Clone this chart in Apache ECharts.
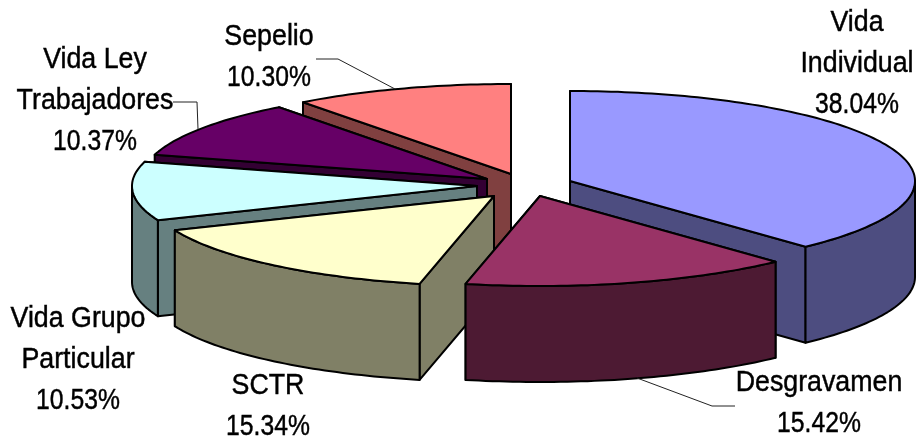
<!DOCTYPE html>
<html>
<head>
<meta charset="utf-8">
<style>html,body{margin:0;padding:0;background:#fff}#c{width:917px;height:441px}</style>
<script src="https://cdn.jsdelivr.net/npm/echarts@6/dist/echarts.min.js"></script>
</head>
<body>
<div id="c"></div>
<script>
// Data
const categories = ['Vida Individual', 'Desgravamen', 'SCTR', 'Vida Grupo Particular', 'Vida Ley Trabajadores', 'Sepelio'];
const shares = [38.04, 15.42, 15.34, 10.53, 10.37, 10.30];
const labelLines = [['Vida', 'Individual'], ['Desgravamen'], ['SCTR'], ['Vida Grupo', 'Particular'], ['Vida Ley', 'Trabajadores'], ['Sepelio']];

// Layout and style (not data)
const RX = 345, RY = 90, DEPTH = 96, LINE_GAP = 41;
const apexes = [[570,181],[540,196],[494,196],[477,186],[487,179],[511,174]];
const topColors = ['#9999FF','#993366','#FFFFCC','#CCFFFF','#660066','#FF8080'];
const sideColors = ['#4D4D80','#4D1A33','#808066','#668080','#330033','#804040'];
const labelPos = [[857,23],[819,383],[268,386],[78,319],[95,60],[269,37]];
const leaders = [null,[[735,406],[712,406],[637,378]],null,null,[[173,102],[197,102],[198,129]],[[316,59],[338,59],[395,89]]];
const drawOrder = [0,5,4,3,2,1];
const FONT = '26px "Liberation Sans", Arial, sans-serif';
const TEXT_SCALE_Y = 1.12, NAME_SCALE_X = 1.03, PCT_SCALE_X = 0.95;

const total = shares.reduce((a,b)=>a+b,0);
const starts = [];
shares.reduce((acc,v,i)=>{starts[i]=acc;return acc+v;},0);
const toRad = v => v/total*2*Math.PI;

function renderSlice(params, api){
  const i = api.value(0);
  const [cx,cy] = apexes[i];
  const a = toRad(starts[i]), b = toRad(starts[i]+shares[i]);
  const rimPt = (t,dy=0)=>[cx+RX*Math.sin(t), cy-RY*Math.cos(t)+dy];
  const arc = (t0,t1,dy=0)=>{
    const n = Math.max(2,Math.ceil(Math.abs(t1-t0)/0.02));
    const pts=[];
    for(let k=0;k<=n;k++) pts.push(rimPt(t0+(t1-t0)*k/n,dy));
    return pts;
  };
  const stroke = {stroke:'#000',lineWidth:2,lineJoin:'round'};
  const poly = (points,fill)=>({type:'polygon',shape:{points},style:{fill,...stroke}});
  const wall = t => [[cx,cy],rimPt(t),rimPt(t,DEPTH),[cx,cy+DEPTH]];
  const children=[];
  const startVisible = Math.sin(a) < -1e-9, endVisible = Math.sin(b) > -1e-9;
  // hidden walls first, then visible ones
  if(!startVisible) children.push(poly(wall(a),sideColors[i]));
  if(!endVisible) children.push(poly(wall(b),sideColors[i]));
  if(startVisible) children.push(poly(wall(a),sideColors[i]));
  if(endVisible) children.push(poly(wall(b),sideColors[i]));
  const ra = Math.max(a,Math.PI/2), rb = Math.min(b,1.5*Math.PI);
  if(rb>ra) children.push(poly(arc(ra,rb).concat(arc(rb,ra,DEPTH)),sideColors[i]));
  children.push(poly([[cx,cy]].concat(arc(a,b)),topColors[i]));
  if(leaders[i]) children.push({type:'polyline',shape:{points:leaders[i]},style:{stroke:'#222',lineWidth:1,fill:null}});
  const names = labelLines[i];
  const lines = names.concat([shares[i].toFixed(2)+'%']);
  lines.forEach((t,k)=>children.push({
    type:'text',
    x:labelPos[i][0],
    y:labelPos[i][1]+k*LINE_GAP,
    scaleX:k<names.length?NAME_SCALE_X:PCT_SCALE_X,
    scaleY:TEXT_SCALE_Y,
    style:{text:t,x:0,y:0,align:'center',verticalAlign:'middle',font:FONT,fill:'#000',stroke:'#000',lineWidth:0.4}
  }));
  return {type:'group',children};
}

const chart = echarts.init(document.getElementById('c'),null,{renderer:'canvas'});
chart.setOption({
  animation:false,
  backgroundColor:'#fff',
  series:[{
    type:'custom',
    coordinateSystem:'none',
    silent:true,
    clip:false,
    renderItem:renderSlice,
    data:drawOrder.map(i=>({name:categories[i],value:[i,shares[i]]}))
  }]
});
</script>
</body>
</html>
